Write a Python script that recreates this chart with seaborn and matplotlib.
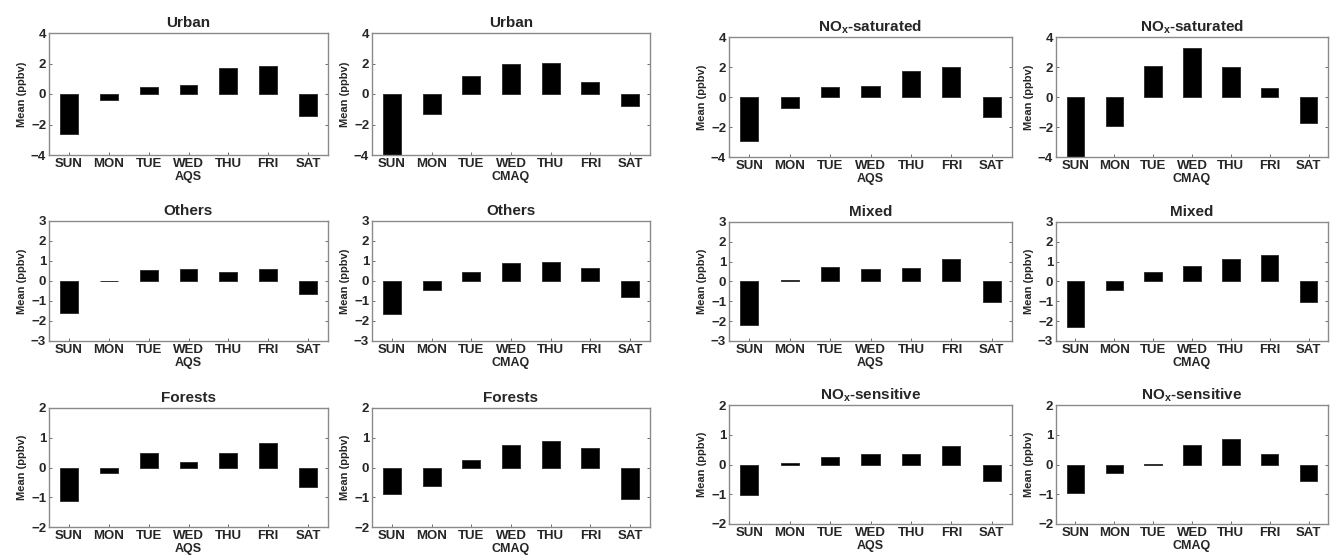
import matplotlib
matplotlib.use("Agg")
import matplotlib.pyplot as plt
import seaborn as sns
import pandas as pd

sns.set_theme(style="white")
plt.rcParams['font.family'] = ['Liberation Sans', 'DejaVu Sans']
plt.rcParams['font.weight'] = 'bold'
plt.rcParams['mathtext.fontset'] = 'custom'
plt.rcParams['mathtext.rm'] = 'Liberation Sans:bold'
plt.rcParams['mathtext.bf'] = 'Liberation Sans:bold'
plt.rcParams['mathtext.it'] = 'Liberation Sans:bold'
plt.rcParams['mathtext.default'] = 'bf'

days = ["SUN", "MON", "TUE", "WED", "THU", "FRI", "SAT"]

urban_aqs = [-2.6, -0.37, 0.49, 0.58, 1.72, 1.83, -1.46]
urban_cmaq = [-4.2, -1.3, 1.18, 2.0, 2.02, 0.8, -0.78]
nox_sat_aqs = [-2.96, -0.72, 0.65, 0.76, 1.72, 2.0, -1.33]
nox_sat_cmaq = [-4.15, -1.96, 2.09, 3.24, 1.98, 0.63, -1.74]
others_aqs = [-1.59, 0.02, 0.56, 0.62, 0.46, 0.62, -0.67]
others_cmaq = [-1.67, -0.43, 0.43, 0.92, 0.97, 0.64, -0.8]
mixed_aqs = [-2.2, 0.08, 0.73, 0.62, 0.7, 1.12, -1.05]
mixed_cmaq = [-2.27, -0.42, 0.47, 0.8, 1.12, 1.35, -1.05]
forests_aqs = [-1.14, -0.2, 0.5, 0.18, 0.48, 0.82, -0.66]
forests_cmaq = [-0.88, -0.62, 0.25, 0.74, 0.88, 0.65, -1.07]
nox_sens_aqs = [-1.02, 0.06, 0.24, 0.35, 0.35, 0.62, -0.54]
nox_sens_cmaq = [-0.97, -0.28, 0.02, 0.66, 0.87, 0.35, -0.57]

titles = [["Urban", "Urban", "NO$_x$-saturated", "NO$_x$-saturated"],
          ["Others", "Others", "Mixed", "Mixed"],
          ["Forests", "Forests", "NO$_x$-sensitive", "NO$_x$-sensitive"]]
series = [[urban_aqs, urban_cmaq, nox_sat_aqs, nox_sat_cmaq],
          [others_aqs, others_cmaq, mixed_aqs, mixed_cmaq],
          [forests_aqs, forests_cmaq, nox_sens_aqs, nox_sens_cmaq]]
xlabels = ["AQS", "CMAQ", "AQS", "CMAQ"]
ylims = [4, 3, 2]

W, H = 1331, 560
fig = plt.figure(figsize=(W / 100, H / 100), dpi=100)

col_x = [(49, 328), (372, 650), (729, 1012), (1056, 1328)]
row_y_left = [(33, 155), (221, 341), (408, 527)]
row_y_right = [(37, 157), (222, 341), (405, 524)]

for r in range(3):
    for c in range(4):
        x0, x1 = col_x[c]
        y0, y1 = (row_y_left if c < 2 else row_y_right)[r]
        ax = fig.add_axes([x0 / W, 1 - y1 / H, (x1 - x0) / W, (y1 - y0) / H])
        df = pd.DataFrame({"day": days, "val": series[r][c]})
        sns.barplot(data=df, x="day", y="val", color="black", saturation=1,
                    width=0.45, ax=ax, order=days,
                    edgecolor="#333333", linewidth=0.7)
        lim = ylims[r]
        ax.set_ylim(-lim, lim)
        ax.set_yticks(range(-lim, lim + 1, 2 if lim == 4 else 1))
        ax.set_xlim(-0.5, 6.5)
        ax.set_title(titles[r][c], fontsize=11, fontweight="bold", pad=4)
        ax.set_xlabel(xlabels[c], fontsize=9, fontweight="bold", labelpad=0.5)
        ax.set_ylabel("Mean (ppbv)", fontsize=8, fontweight="bold", labelpad=3)
        ax.tick_params(axis="both", direction="in", length=2.5, width=0.6,
                       color="#555555", labelsize=9.5, pad=3)
        ax.tick_params(axis="y", right=True, left=True, pad=2)
        ax.tick_params(axis="x", bottom=True, top=False, pad=2.5)
        for lab in ax.get_xticklabels() + ax.get_yticklabels():
            lab.set_fontweight("bold")
        for sp in ax.spines.values():
            sp.set_visible(True)
            sp.set_color("#8a8a8a")
            sp.set_linewidth(1.0)

fig.savefig("out.png", dpi=100, facecolor="white")
